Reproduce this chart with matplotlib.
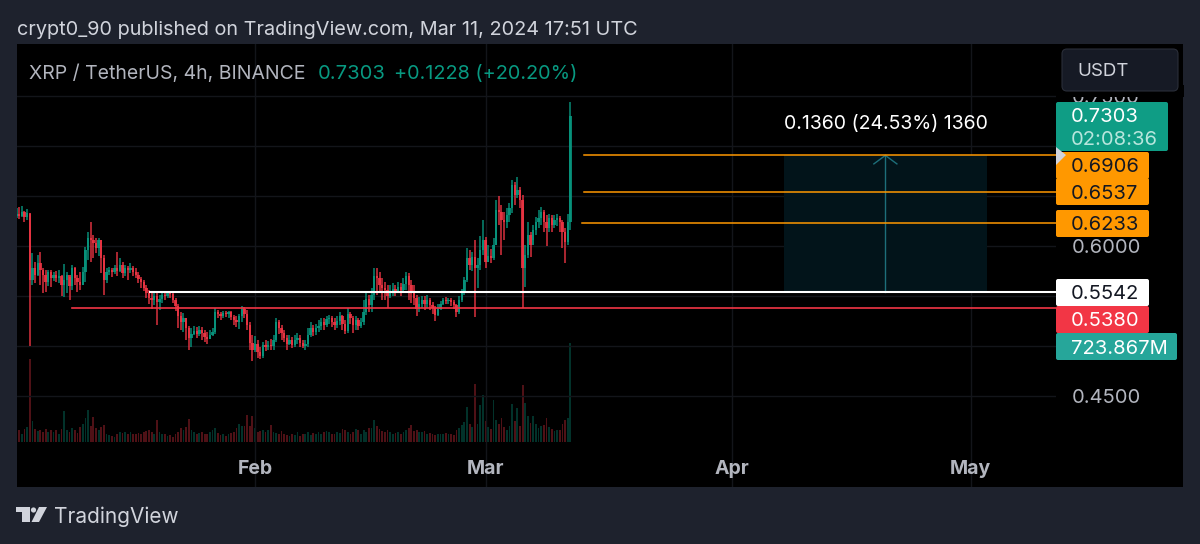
import numpy as np
import pandas as pd
import matplotlib
matplotlib.use("Agg")
import matplotlib.pyplot as plt
import matplotlib.dates as mdates
from matplotlib.patches import Rectangle, FancyBboxPatch, Polygon, Circle

plt.rcParams['font.family'] = ['Inter', 'DejaVu Sans']

# 8h candles, prices in thousandths of a dollar
closes = [632,630,634,629,633,566,578,571,583,576,
          571,564,574,568,571,568,570,561,566,571,
          560,578,568,564,561,574,596,608,606,603,
          598,606,588,566,574,576,574,578,575,581,
          573,578,576,578,574,571,567,564,558,553,
          548,546,550,544,547,551,550,554,552,546,
          540,530,524,528,518,508,512,515,512,516,
          513,509,507,511,514,534,532,530,533,532,
          534,529,526,524,530,537,532,521,503,496,
          502,494,490,501,499,501,500,506,524,518,
          513,508,502,506,501,506,508,503,500,502,
          511,518,514,518,520,524,521,527,528,524,
          521,525,530,522,515,532,528,521,526,520,
          524,534,547,541,551,570,568,561,558,556,
          550,554,557,555,559,556,562,570,561,554,
          548,537,542,546,542,546,541,538,531,537,
          542,546,545,546,544,541,534,546,553,566,
          588,581,589,578,581,596,606,584,590,588,
          601,636,634,626,624,631,638,661,651,656,
          646,578,591,611,601,616,624,628,634,624,
          618,628,621,626,628,624,614,604,624,730.3]
highs = [638,639,640,635,637,632,593,584,591,594,
         578,576,576,576,574,575,576,571,582,574,
         569,581,579,571,574,579,599,614,624,611,
         608,608,606,591,578,579,578,581,594,588,
         584,581,580,583,580,578,574,569,566,561,
         556,554,554,553,551,554,555,555,555,554,
         548,542,534,533,528,520,518,520,519,520,
         519,516,514,516,518,538,536,534,535,535,
         535,535,531,530,532,540,539,536,524,511,
         510,506,499,504,506,505,507,511,528,526,
         521,516,511,511,509,511,513,511,506,506,
         518,524,521,522,526,528,528,530,531,530,
         528,530,534,531,526,538,534,530,530,528,
         528,546,553,551,558,578,578,574,568,564,
         561,561,563,561,564,563,568,574,573,566,
         561,551,549,550,550,551,548,544,540,542,
         545,548,549,548,548,546,542,550,557,569,
         598,596,594,606,588,610,626,609,601,597,
         608,646,650,641,634,638,643,666,664,669,
         659,651,601,624,614,621,629,636,639,636,
         631,632,631,631,632,630,626,618,632,744]
lows = [628,627,629,624,626,500,561,563,570,561,
        553,554,560,559,565,564,563,550,549,553,
        546,556,561,554,556,561,564,586,584,588,
        593,590,573,551,563,571,569,572,570,574,
        568,570,566,573,570,568,563,558,555,548,
        542,537,541,521,536,543,546,548,548,543,
        535,518,516,514,506,496,499,511,508,510,
        506,504,502,507,510,512,528,526,528,529,
        528,526,521,519,517,524,528,516,496,485,
        494,488,487,488,495,496,496,496,504,512,
        506,504,496,501,498,499,502,499,498,496,
        499,509,510,511,514,516,516,519,522,519,
        516,518,521,516,512,513,522,513,516,516,
        518,521,531,534,534,546,551,554,546,546,
        538,548,550,550,553,550,554,556,546,543,
        541,530,534,538,536,538,536,532,525,530,
        536,541,542,542,540,537,529,532,544,551,
        564,576,575,529,558,576,591,578,584,583,
        586,601,621,591,606,618,624,633,641,648,
        638,538,559,588,589,606,611,618,621,614,
        600,614,614,618,620,614,598,583,601,616]
volumes = [70,85,60,95,110,607,150,95,80,90,
           75,95,70,85,75,90,60,95,227,85,
           70,100,85,65,110,130,175,234,120,185,
           100,90,110,125,60,50,45,40,60,70,
           65,75,60,70,55,60,65,55,70,80,
           90,75,60,160,75,55,60,45,50,40,
           55,70,105,85,110,168,90,70,60,65,
           75,60,55,70,90,100,65,50,60,45,
           55,65,75,100,135,120,120,197,120,190,
           100,75,80,85,75,90,125,75,65,60,
           80,55,50,45,60,50,70,45,55,60,
           75,50,65,55,75,60,70,80,75,60,
           55,70,65,95,85,75,60,70,95,90,
           60,85,70,100,105,160,115,95,80,70,
           85,75,60,65,70,60,75,85,100,125,
           80,90,75,70,80,60,65,55,50,60,
           55,60,65,55,60,50,85,105,125,145,
           256,130,110,424,135,270,345,150,110,95,
           305,160,130,175,110,90,120,280,150,250,
           120,417,285,190,140,190,130,105,115,125,
           175,110,95,80,90,85,130,160,175,723.867]

# horizontal levels drawn on the chart
orange_levels = [0.6906, 0.6537, 0.6233]
orange_starts = ["2024-03-13 08:00", "2024-03-13 08:00", "2024-03-13 03:00"]
white_level = 0.5542
white_start = "2024-01-18 19:00"
red_level = 0.5380
red_start = "2024-01-09 00:00"
measure_low = 0.5542
measure_high = 0.6906
measure_start = "2024-04-07 12:00"
measure_end = "2024-05-03 03:00"
measure_mid = "2024-04-20 07:00"

# the other price ticks sit behind tags in the original
price_ticks = [0.45, 0.50, 0.55, 0.60, 0.65, 0.70, 0.75]
shown_ticks = [0.45, 0.60, 0.75]

UP = '#089981'
DOWN = '#f23645'
ORANGE = '#ff9800'
PANEL = '#1e222d'
LABEL = '#b2b5be'
TEXT = '#d1d4dc'

closes = np.array(closes) / 1000
highs = np.array(highs) / 1000
lows = np.array(lows) / 1000
opens = np.r_[0.630, closes[:-1]]
dates = pd.date_range(end="2024-03-11 16:00", periods=len(closes), freq="8h")
x = mdates.date2num(dates)
is_up = closes >= opens


def num(d):
    return mdates.date2num(pd.Timestamp(d))


fig = plt.figure(figsize=(12, 5.44), dpi=100, facecolor=PANEL)

# black chart panel behind everything
ui_back = fig.add_axes([0, 0, 1, 1], zorder=0)
ui_back.set_xlim(0, 1200)
ui_back.set_ylim(544, 0)
ui_back.axis('off')
ui_back.add_patch(Rectangle((17, 44), 1166, 443, color='black', lw=0))

# price axes, 7.95 px per day with Feb 1 at x=255
ax = fig.add_axes([17 / 1200, 57 / 544, 1039 / 1200, 443 / 544], zorder=2)
ax.patch.set_visible(False)
feb = num("2024-02-01")
ax.set_xlim(feb - 238 / 7.95, feb + 801 / 7.95)
ax.set_ylim(0.359, 0.802)

# volume sits on its own scale, hidden
ax_v = ax.twinx()
ax_v.set_zorder(1)
ax.set_zorder(2)
ax_v.patch.set_visible(False)
px_per_m = 99 / 723.867
ax_v.set_ylim(-45 / px_per_m, 398 / px_per_m)
ax_v.axis('off')
vol_colors = [UP if u else DOWN for u in is_up]
ax_v.bar(x, volumes, width=0.22, color=vol_colors, alpha=0.33, lw=0)

for s in ax.spines.values():
    s.set_visible(False)
ax.set_yticks(price_ticks)
ax.yaxis.set_major_formatter(
    lambda v, pos: f'{v:.4f}' if any(abs(v - t) < 1e-6 for t in shown_ticks) else '')
ax.yaxis.tick_right()
ax.xaxis.set_major_locator(mdates.MonthLocator())
ax.xaxis.set_major_formatter(mdates.DateFormatter('%b'))
ax.tick_params(axis='y', length=0, pad=11, labelcolor=LABEL, labelsize=14.5)
ax.tick_params(axis='x', length=0, pad=-19.5, labelcolor=LABEL, labelsize=14)
for t in ax.get_xticklabels():
    t.set_fontweight('bold')
ax.grid(True, color='#13151a', lw=1)
ax.set_axisbelow(True)

# candles
colors = np.array(vol_colors)
ax.vlines(x, lows, highs, colors=colors, lw=1.1, alpha=0.9, zorder=3)
ax.bar(x, np.abs(closes - opens), bottom=np.minimum(opens, closes), width=0.3,
       color=colors, lw=0, alpha=0.85, zorder=3)

# measure box and levels
ax.add_patch(Rectangle((num(measure_start), measure_low),
                       num(measure_end) - num(measure_start),
                       measure_high - measure_low,
                       color='#02141a', lw=0, zorder=2))
xm = num(measure_mid)
ax.plot([xm, xm], [measure_low, measure_high], color='#1d6f7a', lw=1, zorder=3)
ax.plot([xm - 1.45, xm, xm + 1.45], [measure_high - 0.0085, measure_high, measure_high - 0.0085],
        color='#1d6f7a', lw=1, zorder=3)
for level, start in zip(orange_levels, orange_starts):
    ax.plot([num(start), ax.get_xlim()[1]], [level, level], color=ORANGE, lw=1.1, zorder=4)
ax.plot([num(white_start), ax.get_xlim()[1]], [white_level] * 2, color='white', lw=1.5, zorder=4)
ax.plot([num(red_start), ax.get_xlim()[1]], [red_level] * 2, color=DOWN, lw=1.2, zorder=4)

# overlay for the TradingView chrome, in picture pixels
ui = fig.add_axes([0, 0, 1, 1], zorder=5)
ui.set_xlim(0, 1200)
ui.set_ylim(544, 0)
ui.axis('off')
ui.patch.set_visible(False)


def tag(y0, y1, x1, bg):
    ui.add_patch(FancyBboxPatch((1056, y0), x1 - 1056, y1 - y0,
                                boxstyle='round,pad=0,rounding_size=2', fc=bg, ec='none'))


def tag_text(y, s, color, size=14.5):
    ui.text(1071, y, s, color=color, fontsize=size, va='center_baseline', ha='left')


# hide the top of the clipped 0.7500 label
ui.add_patch(Rectangle((1056, 85), 128, 12, color='black', lw=0))

tag(102, 151, 1168, '#0f9d85')
tag(152, 179, 1149, ORANGE)
tag(178, 205, 1149, ORANGE)
tag(210, 237, 1149, ORANGE)
tag(279, 306, 1149, 'white')
tag(306, 333, 1149, DOWN)
tag(333, 360, 1177, '#26a69a')
tag_text(115, '0.7303', 'white')
tag_text(138, '02:08:36', '#b8e6dd')
tag_text(165, '0.6906', '#131722')
tag_text(192, '0.6537', '#131722')
tag_text(223, '0.6233', '#131722')
tag_text(292, '0.5542', '#131722')
tag_text(319, '0.5380', 'white')
tag_text(347, '723.867M', 'white')
ui.add_patch(Polygon([(1056, 147), (1066, 155), (1056, 165)], fc='#d1d4dc', ec='none'))

# currency button
ui.add_patch(FancyBboxPatch((1062, 49), 116, 42, boxstyle='round,pad=0,rounding_size=5',
                            fc='#161a25', ec='#2a2e39', lw=0.8))
ui.text(1077, 70, 'USDT', color=TEXT, fontsize=13.5, va='center_baseline')

# header and legend
ui.text(17, 28, 'crypt0_90 published on TradingView.com, Mar 11, 2024 17:51 UTC',
        color=TEXT, fontsize=14.3, va='center_baseline')
ui.text(29, 72, 'XRP / TetherUS, 4h, BINANCE', color=LABEL, fontsize=14, va='center_baseline')
ui.text(318, 72, '0.7303', color=UP, fontsize=14.5, va='center_baseline')
ui.text(394, 72, '+0.1228 (+20.20%)', color=UP, fontsize=14.3, va='center_baseline')
ui.text(886, 122, '0.1360 (24.53%) 1360', color='white', fontsize=14, ha='center',
        va='center_baseline')

# logo and footer
ui.add_patch(Polygon([(16, 507), (30, 507), (30, 522), (22, 522), (22, 512), (16, 512)],
                     fc=TEXT, ec='none'))
ui.add_patch(Circle((33.5, 510), 2.6, fc=TEXT, ec='none'))
ui.add_patch(Polygon([(39, 507), (47, 507), (39, 522), (31.5, 522)], fc=TEXT, ec='none'))
ui.text(54, 515, 'TradingView', color=TEXT, fontsize=15, va='center_baseline')

fig.savefig('out.png', dpi=100, facecolor=PANEL)
